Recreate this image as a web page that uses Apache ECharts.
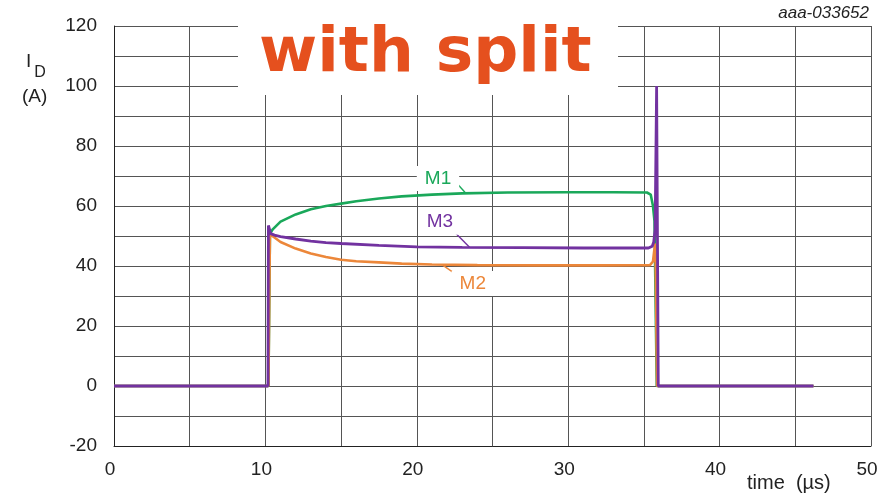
<!DOCTYPE html>
<html lang="en">
<head>
    <meta charset="UTF-8">
    <script src="https://cdn.jsdelivr.net/npm/echarts@6/dist/echarts.min.js"></script>
    <style>
        html, body { margin: 0; padding: 0; background: #fff; }
        #chart { width: 884px; height: 496px; }
    </style>
</head>
<body>
<div id="chart"></div>
<script>
    // time axis (µs) and drain current (A) per curve
    var m1Time = [0, 10.2, 10.3, 10.5, 11, 12, 13, 14, 15, 16, 17.5, 19, 21, 23, 26, 30, 33, 35.2, 35.45, 35.6, 35.7, 35.85, 36, 46.2];
    var m1Curr = [0, 0, 50.8, 52.3, 54.8, 57.2, 58.9, 60, 60.8, 61.6, 62.5, 63.2, 63.8, 64.2, 64.5, 64.6, 64.6, 64.5, 63.8, 60, 55, 0, 0, 0];

    var m2Time = [0, 10.2, 10.3, 10.6, 11, 12, 13, 14, 15, 16, 17.5, 19, 21, 24, 28, 32, 35.4, 35.6, 35.68, 35.76, 35.87, 46.2];
    var m2Curr = [0, 0, 50.5, 49.5, 48, 45.8, 44.2, 43, 42.1, 41.6, 41.2, 40.8, 40.5, 40.3, 40.2, 40.2, 40.3, 41.5, 45, 47.5, 0, 0];

    var m3Time = [0, 10.17, 10.2, 10.35, 10.6, 11, 12, 13, 14, 15, 17.5, 20, 23, 27, 31, 35.3, 35.55, 35.65, 35.74, 35.84, 35.95, 46.2];
    var m3Curr = [0, 0, 53.5, 50.8, 50.3, 49.8, 49, 48.3, 47.8, 47.5, 46.9, 46.4, 46.2, 46.1, 46.0, 46.0, 46.6, 48, 52, 100, 0, 0];

    // tick label values shown on the axes
    var xTickLabels = [0, 10, 20, 30, 40, 50];
    var yTickLabels = [-20, 0, 20, 40, 60, 80, 100, 120];

    var GREEN = '#1aa85a', ORANGE = '#ec873a', PURPLE = '#7232a0';

    function pairs(xs, ys) {
        var out = [];
        for (var i = 0; i < xs.length; i++) out.push([xs[i], ys[i]]);
        return out;
    }

    // M-label with its leader line, in data coordinates
    function tag(name, color, textAt, from, to) {
        return {
            markPoint: {
                silent: true,
                symbol: 'circle',
                symbolSize: 1,
                itemStyle: { color: 'rgba(0,0,0,0)' },
                label: {
                    show: true, position: 'inside', formatter: name,
                    color: color, fontSize: 19, fontFamily: 'Liberation Sans',
                    backgroundColor: '#fff', padding: [3, 8]
                },
                data: [{ coord: textAt }]
            },
            markLine: {
                silent: true,
                symbol: 'none',
                label: { show: false },
                lineStyle: { color: color, width: 1.4, type: 'solid' },
                data: [[{ coord: from }, { coord: to }]]
            }
        };
    }

    var chart = echarts.init(document.getElementById('chart'));

    var lineBase = { type: 'line', showSymbol: false, symbol: 'none', smooth: false, animation: false };

    var s1 = Object.assign({}, lineBase, { name: 'M1', data: pairs(m1Time, m1Curr), lineStyle: { color: GREEN, width: 2.6 }, itemStyle: { color: GREEN }, z: 3 },
        tag('M1', GREEN, [21.4, 69.2], [22.46, 68.6], [23.18, 64.6]));
    var s2 = Object.assign({}, lineBase, { name: 'M2', data: pairs(m2Time, m2Curr), lineStyle: { color: ORANGE, width: 2.6 }, itemStyle: { color: ORANGE }, z: 4 },
        tag('M2', ORANGE, [23.7, 34.2], [21.73, 40.2], [22.98, 35.9]));
    var s3 = Object.assign({}, lineBase, { name: 'M3', data: pairs(m3Time, m3Curr), lineStyle: { color: PURPLE, width: 2.8 }, itemStyle: { color: PURPLE }, z: 5 },
        tag('M3', PURPLE, [21.53, 54.6], [22.52, 51.2], [23.5, 46.2]));

    var option = {
        animation: false,
        backgroundColor: '#fff',
        grid: { left: 114, right: 13, top: 26, bottom: 50, containLabel: false },
        xAxis: {
            type: 'value', min: 0, max: 50, interval: 5,
            axisLine: { show: true, onZero: false, lineStyle: { color: '#222', width: 1 } },
            axisTick: { show: false },
            splitLine: { show: true, lineStyle: { color: '#555', width: 1 } },
            axisLabel: {
                color: '#222', fontSize: 19, fontFamily: 'Liberation Sans', margin: 14,
                padding: [0, 8, 0, 0],
                formatter: function (v) { return xTickLabels.indexOf(v) >= 0 ? String(v) : ''; }
            }
        },
        yAxis: {
            type: 'value', min: -20, max: 120, interval: 10,
            axisLine: { show: true, onZero: false, lineStyle: { color: '#222', width: 1 } },
            axisTick: { show: false },
            splitLine: { show: true, lineStyle: { color: '#555', width: 1 } },
            axisLabel: {
                color: '#222', fontSize: 19, fontFamily: 'Liberation Sans', margin: 17,
                formatter: function (v) { return yTickLabels.indexOf(v) >= 0 ? String(v) : ''; }
            }
        },
        graphic: [
            // white patch behind the title
            { type: 'rect', z: 100, shape: { x: 238, y: 0, width: 380, height: 95 }, style: { fill: '#fff' } },
            {
                type: 'text', z: 101, left: 259, top: 23,
                style: { text: 'with split', fill: '#e5501e', font: 'bold 63px "DejaVu Sans"' }
            },
            {
                type: 'text', z: 101, right: 15, top: 5,
                style: { text: 'aaa-033652', fill: '#222', font: 'italic 17px "Liberation Sans"' }
            },
            {
                type: 'text', z: 101, left: 26, top: 52,
                style: {
                    text: '{i|I}{d|D}', fill: '#222',
                    rich: {
                        i: { fontSize: 19, fontFamily: 'Liberation Sans', verticalAlign: 'top' },
                        d: { fontSize: 16, fontFamily: 'Liberation Sans', padding: [13, 0, 0, 3] }
                    }
                }
            },
            {
                type: 'text', z: 101, left: 22, top: 87,
                style: { text: '(A)', fill: '#222', font: '19px "Liberation Sans"' }
            },
            {
                type: 'text', z: 101, left: 747, top: 473,
                style: { text: 'time  (µs)', fill: '#222', font: '20px "Liberation Sans"' }
            }
        ],
        series: [s1, s2, s3]
    };
    chart.setOption(option);
</script>
</body>
</html>
